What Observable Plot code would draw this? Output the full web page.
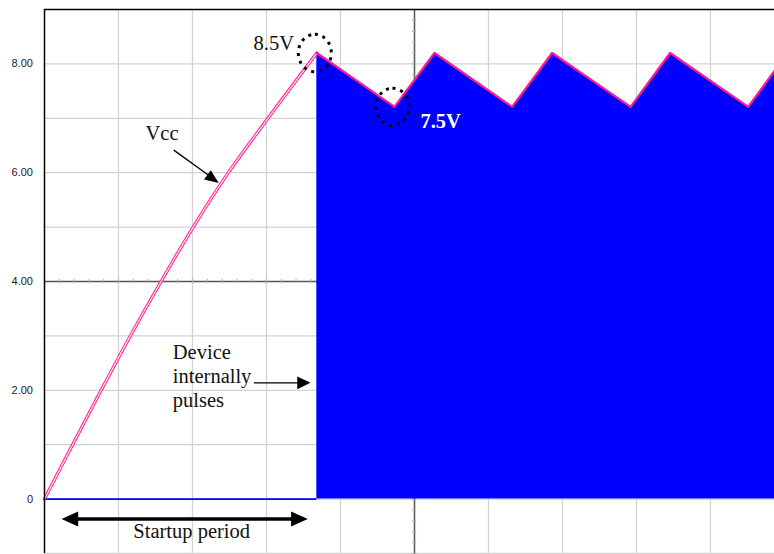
<!DOCTYPE html>
<html><head><meta charset="utf-8">
<script src="https://cdn.jsdelivr.net/npm/d3@7"></script>
<script src="https://cdn.jsdelivr.net/npm/@observablehq/plot@0.6"></script>
<style>html,body{margin:0;padding:0;background:#fff}#chart svg{display:block}</style>
</head><body><div id="chart"></div>
<script>
// Time in scope divisions, voltage in volts
const riseTime  = [0, 0.38, 0.765, 1.16, 1.575, 2.01, 2.485, 3.02, 3.68];
const riseVolts = [0, 1.0, 2.0, 3.0, 4.0, 5.0, 6.0, 7.0, 8.2];
const pulseTime  = [3.68, 4.73, 5.27, 6.32, 6.86, 7.92, 8.455, 9.51, 9.865];
const pulseVolts = [8.2, 7.21, 8.2, 7.21, 8.2, 7.21, 8.2, 7.21, 7.87];
const yTickValues = [0, 2, 4, 6, 8];
const yTickLabels = ["0", "2.00", "4.00", "6.00", "8.00"];

const rise = riseTime.map((t, i) => ({t, v: riseVolts[i]}));
const pulse = pulseTime.map((t, i) => ({t, v: pulseVolts[i]}));
const peak = pulse[0], valley = pulse[1];

const PINK = "#ff1a8c", BLUE = "#0000ff";
const serif = "Liberation Serif, Times New Roman, serif";

const head = (len, wid) => ({draw(ctx) {
  ctx.moveTo(0, 0); ctx.lineTo(-len, -wid / 2); ctx.lineTo(-len, wid / 2); ctx.closePath();
}});
const ellipse = (rx, ry) => ({draw(ctx) {
  const n = 90;
  for (let i = 0; i <= n; i++) {
    const a = -Math.PI / 2 + i / n * 2 * Math.PI;
    const x = rx * Math.cos(a), y = ry * Math.sin(a);
    i ? ctx.lineTo(x, y) : ctx.moveTo(x, y);
  }
  ctx.closePath();
}});

const chart = Plot.plot({
  width: 774, height: 554,
  marginLeft: 44, marginRight: 0, marginTop: 9, marginBottom: 1,
  x: {domain: [0, 730 / 74], axis: null},
  y: {domain: [-1, 9], ticks: yTickValues, tickFormat: d => yTickLabels[yTickValues.indexOf(d)],
      tickSize: 0, tickPadding: 11.5, label: null},
  style: {fontFamily: "Liberation Sans, Arial, sans-serif", fontSize: "11px", color: "#222", background: "#fff"},
  marks: [
    // grid
    Plot.ruleX(d3.range(1, 10).filter(d => d !== 5), {stroke: "#d3d3d3", strokeWidth: 1.3}),
    Plot.ruleY(d3.range(-1, 9).filter(d => d !== 4), {stroke: "#d3d3d3", strokeWidth: 1.3}),
    Plot.ruleY([4], {stroke: "#555", strokeWidth: 1.5}),
    Plot.ruleX([5], {stroke: "#555", strokeWidth: 1.5}),
    Plot.ruleX(d3.range(0.2, 9.86, 0.2), {y1: 3.96, y2: 4.04, stroke: "#b0b0b0", strokeWidth: 1}),
    Plot.ruleY(d3.range(-1, 9, 0.2), {x1: 4.97, x2: 5.03, stroke: "#b0b0b0", strokeWidth: 1}),
    // pulses
    Plot.areaY(pulse, {x: "t", y1: 0, y2: "v", fill: BLUE}),
    Plot.ruleY([0], {x1: 0, x2: peak.t, stroke: BLUE, strokeWidth: 1.6}),
    Plot.line(rise, {x: "t", y: "v", stroke: PINK, strokeWidth: 3.2, curve: "catmull-rom"}),
    Plot.line(rise, {x: "t", y: "v", stroke: "#ffe4f1", strokeWidth: 1.3, curve: "catmull-rom"}),
    Plot.line(pulse, {x: "t", y: "v", stroke: PINK, strokeWidth: 2.2}),
    // frame
    Plot.ruleX([0], {stroke: "#000", strokeWidth: 1.5}),
    Plot.ruleY([9], {stroke: "#000", strokeWidth: 1.5}),
    // dotted circles
    Plot.dot([peak, valley], {x: "t", y: "v", dx: -2, symbol: ellipse(16.5, 18.7), r: 10, fill: "none",
      stroke: "#000", strokeWidth: 3, strokeDasharray: "3,5"}),
    // texts
    Plot.text(["8.5V"], {x: 3.372, y: 8.254, textAnchor: "end", lineAnchor: "bottom", fontFamily: serif, fontSize: 20.5, fill: "#111"}),
    Plot.text(["Vcc"], {x: 1.365, y: 6.599, textAnchor: "start", lineAnchor: "bottom", fontFamily: serif, fontSize: 20.5, fill: "#111"}),
    Plot.text(["7.5V"], {x: 5.081, y: 6.814, textAnchor: "start", lineAnchor: "bottom", fontFamily: serif, fontSize: 20.5, fontWeight: "bold", fill: "#fff"}),
    Plot.text(["Device\ninternally\npulses"], {x: 1.734, y: 1.686, textAnchor: "start", lineAnchor: "bottom", lineHeight: 1.17, fontFamily: serif, fontSize: 20.5, fill: "#111"}),
    Plot.text(["Startup period"], {x: 1.989, y: -0.7224, textAnchor: "middle", lineAnchor: "bottom", fontFamily: serif, fontSize: 20.5, fill: "#111"}),
    // arrows
    Plot.link([{x1: 1.747, y1: 6.415, x2: 2.25, y2: 5.92}], {x1: "x1", y1: "y1", x2: "x2", y2: "y2", stroke: "#000", strokeWidth: 1.3}),
    Plot.dot([{x: 2.355, y: 5.81}], {x: "x", y: "y", symbol: head(14, 11.5), r: 6, rotate: 36, fill: "#000", stroke: "none"}),
    Plot.link([{x1: 2.830, x2: 3.45, y: 2.138}], {x1: "x1", x2: "x2", y1: "y", y2: "y", stroke: "#000", strokeWidth: 1.3}),
    Plot.dot([{x: 3.595, y: 2.138}], {x: "x", y: "y", symbol: head(13.3, 12.7), r: 6, rotate: 0, fill: "#000", stroke: "none"}),
    Plot.link([{x1: 0.40, x2: 3.39, y: -0.3676}], {x1: "x1", x2: "x2", y1: "y", y2: "y", stroke: "#000", strokeWidth: 3.5}),
    Plot.dot([{x: 0.2297, y: -0.3676, a: 180}, {x: 3.558, y: -0.3676, a: 0}], {x: "x", y: "y", rotate: "a", symbol: head(16.7, 15), r: 6, fill: "#000", stroke: "none"})
  ]
});
document.getElementById("chart").appendChild(chart);
</script>
</body></html>
